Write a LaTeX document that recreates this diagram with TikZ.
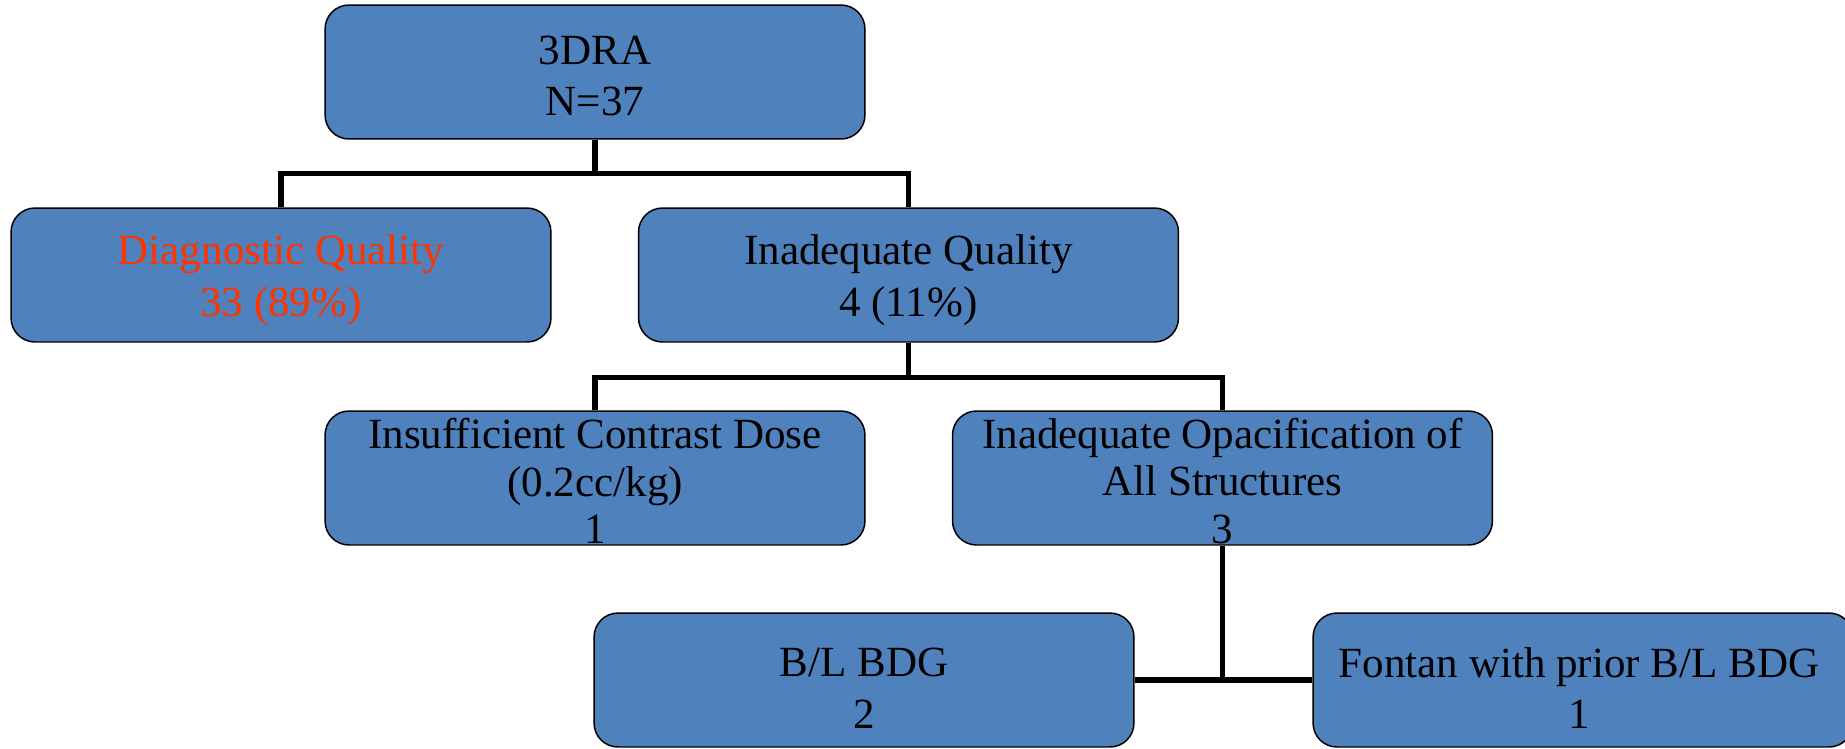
\documentclass[tikz,border=0pt]{standalone}
\usepackage{fontspec}
\setmainfont{Liberation Serif}
\definecolor{boxblue}{HTML}{4F81BD}
\definecolor{redtxt}{RGB}{255,51,0}
\begin{document}
\begin{tikzpicture}[x=0.02cm,y=-0.02cm,
  box/.style={draw=black,line width=0.85pt,fill=boxblue,rounded corners=0.48cm,
    minimum width=10.8cm,minimum height=2.68cm,inner sep=0pt},
  txt/.style={align=center,font=\fontsize{24.5}{29.5}\selectfont,inner sep=0pt},
  conn/.style={draw=black,line width=3pt}]
\useasboundingbox (0,0) rectangle (1845,748);
\clip (0,0) rectangle (1845,748);
\node[box] (r) at (595,72) {};
\node[box] (diag) at (281,275) {};
\node[box] (inad) at (908.5,275) {};
\node[box] (ins) at (595,478) {};
\node[box] (op) at (1222.5,478) {};
\node[box] (bl) at (864,680) {};
\node[box] (fo) at (1583,680) {};
% connectors
\draw[conn] (r.south) -- ++(0,34) -| (diag.north);
\draw[conn] (r.south) -- ++(0,34) -| (inad.north);
\draw[conn] (inad.south) -- ++(0,34.5) -| (ins.north);
\draw[conn] (inad.south) -- ++(0,34.5) -| (op.north);
\draw[conn] (op.south) -- (op.south |- bl.east);
\draw[conn] (bl.east) -- (fo.west);
% texts
\node[txt] (tr) at ([yshift=-0.08cm]r.center) {3DRA\\N=37};
\node[txt,text=redtxt] (tdiag) at ([yshift=-0.1cm]diag.center) {Diagnostic Quality\\33 (89\%)};
\node[txt] (tinad) at ([yshift=-0.1cm]inad.center) {Inadequate Quality\\4 (11\%)};
\node[txt,font=\fontsize{24.5}{27}\selectfont] (tins) at ([yshift=-0.06cm]ins.center) {Insufficient Contrast Dose\\(0.2cc/kg)\\1};
\node[txt,font=\fontsize{24.5}{27}\selectfont] (top) at ([yshift=-0.06cm]op.center) {Inadequate Opacification of\\All Structures\\3};
\node[txt] (tbl) at ([yshift=-0.16cm]bl.center) {B/L BDG\\2};
\node[txt] (tfo) at ([xshift=-0.08cm,yshift=-0.16cm]fo.center) {Fontan with prior B/L BDG\\1};
\end{tikzpicture}
\end{document}
